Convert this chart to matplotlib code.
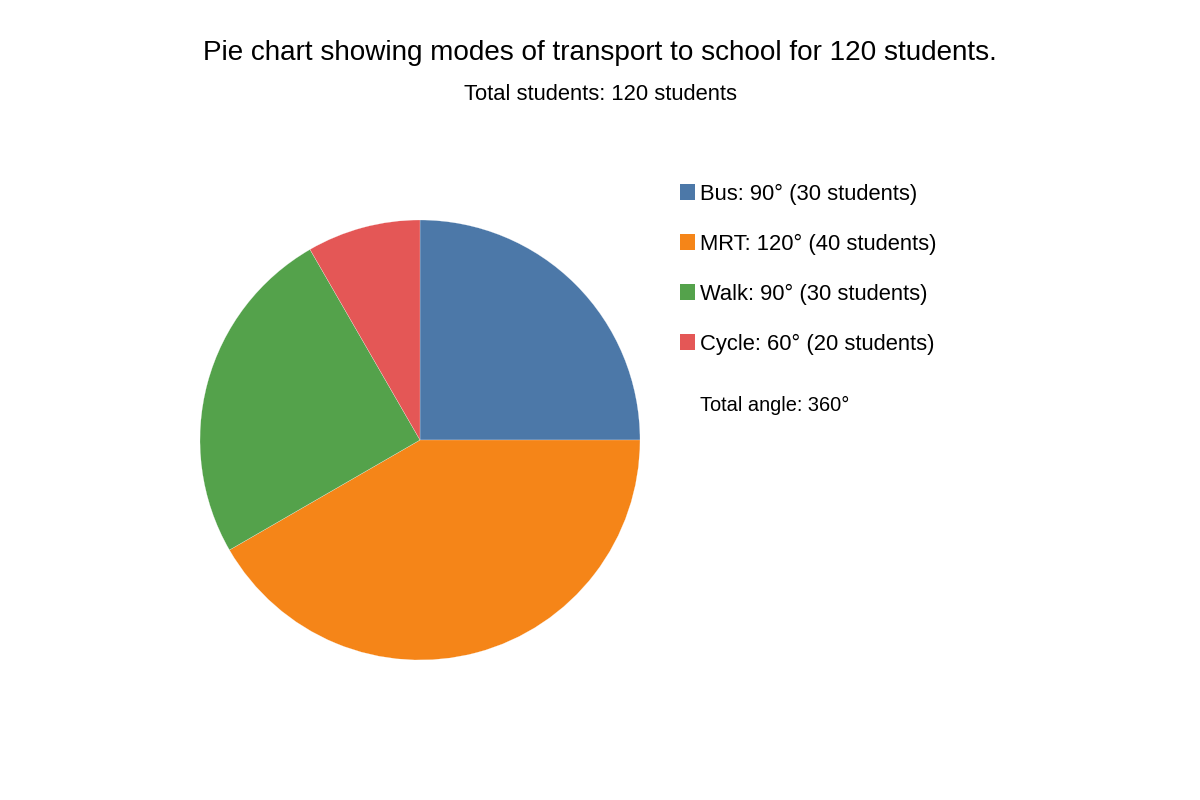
import matplotlib
matplotlib.use("Agg")
import matplotlib.pyplot as plt
from matplotlib.patches import Rectangle

plt.rcParams['font.family'] = ['Liberation Sans', 'DejaVu Sans']

categories = ["Bus", "MRT", "Walk", "Cycle"]
drawn_angles = [90, 150, 90, 30]          # slice sizes as drawn in the picture
label_angles = [90, 120, 90, 60]          # angles stated in the legend
students = [30, 40, 30, 20]
colors = ["#4C78A8", "#F58518", "#54A24B", "#E45756"]
title = "Pie chart showing modes of transport to school for 120 students."
subtitle = "Total students: 120 students"
total_text = "Total angle: 360°"

W, H = 1200, 800
fig = plt.figure(figsize=(12, 8), dpi=100)

cx, cy, r = 420, 440, 220
ax = fig.add_axes([(cx - r) / W, (H - cy - r) / H, 2 * r / W, 2 * r / H])
ax.pie(drawn_angles, colors=colors, startangle=90, counterclock=False, radius=1,
       wedgeprops=dict(linewidth=0.15, edgecolor="white"))
ax.set_xlim(-1, 1)
ax.set_ylim(-1, 1)
ax.set_aspect("equal")
ax.axis("off")

fig.text(600 / W, 1 - 53 / H, title, ha="center", va="center", fontsize=20.1)
fig.text(600 / W, 1 - 95 / H, subtitle, ha="center", va="center", fontsize=15.8)

for i, (c, a, s) in enumerate(zip(categories, label_angles, students)):
    yc = 192 + 50 * i
    fig.patches.append(Rectangle((680 / W, 1 - (yc + 7.5) / H), 15 / W, 15 / H,
                                 transform=fig.transFigure, facecolor=colors[i],
                                 edgecolor="none"))
    fig.text(700 / W, 1 - (yc + 2.5) / H, f"{c}: {a}° ({s} students)", ha="left",
             va="center", fontsize=15.8)

fig.text(700 / W, 1 - 405 / H, total_text, ha="left", va="center", fontsize=14.4)

fig.savefig("out.png", dpi=100, facecolor="white")
